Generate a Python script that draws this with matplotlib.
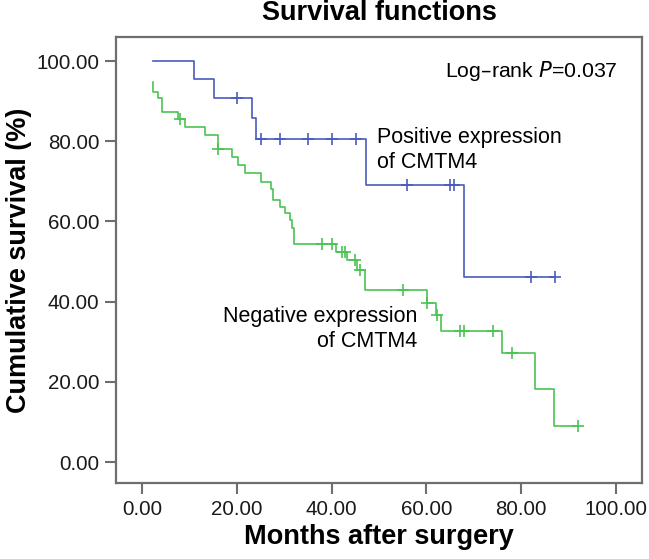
import numpy as np
import matplotlib.pyplot as plt

plt.rcParams['font.family'] = ['Liberation Sans', 'DejaVu Sans']

# Kaplan-Meier steps (months, cumulative survival %)
pos_t = [2.3, 11.0, 15.2, 23.1, 24.0, 47.2, 68.0, 87.1]
pos_s = [100.0, 95.5, 90.7, 85.8, 80.6, 69.2, 46.1, 46.1]
pos_cens_t = [20.0, 25.0, 29.1, 35.0, 40.0, 45.1, 56.0, 65.0, 65.8, 82.0, 87.1]
pos_cens_s = [90.7, 80.6, 80.6, 80.6, 80.6, 80.6, 69.2, 69.2, 69.2, 46.1, 46.1]

neg_t = [2.4, 2.4, 3.3, 4.2, 7.5, 9.1, 13.3, 16.0, 18.9, 20.3,
         21.7, 25.2, 27.2, 27.7, 29.1, 30.2, 31.2, 31.6, 32.0, 40.9,
         43.2, 45.3, 47.0, 60.1, 62.0, 63.0, 75.9, 82.9, 86.9, 92.0]
neg_s = [94.7, 92.4, 90.7, 87.4, 85.5, 83.6, 81.5, 78.0, 76.1, 74.1,
         72.0, 69.9, 68.2, 65.3, 63.7, 62.0, 60.3, 58.3, 54.5, 52.4,
         50.4, 47.9, 42.9, 39.7, 36.7, 32.7, 27.3, 18.2, 9.1, 9.1]
neg_cens_t = [8.0, 16.0, 37.9, 40.0, 42.2, 42.8, 44.9, 46.0, 55.0, 60.1,
              62.2, 67.1, 67.9, 74.0, 78.0, 92.0]
neg_cens_s = [85.5, 78.0, 54.5, 54.5, 52.4, 52.4, 50.4, 47.9, 42.9, 39.7,
              36.7, 32.7, 32.7, 32.7, 27.3, 9.1]

ticks = [0, 20, 40, 60, 80, 100]

blue = '#4a5bbd'
green = '#4cc453'
grey = '#6e6e6e'

fig = plt.figure(figsize=(6.49, 5.59), dpi=100)
ax = fig.add_axes([116 / 649, 1 - 483 / 559, 526 / 649, 446 / 559])

ax.step(pos_t, pos_s, where='post', color=blue, lw=1.2)
ax.plot(pos_cens_t, pos_cens_s, '+', color=blue, ms=8, mew=1.2)
ax.step(neg_t, neg_s, where='post', color=green, lw=1.2)
ax.plot(neg_cens_t, neg_cens_s, '+', color=green, ms=8, mew=1.2)

ax.set_xlim(-5.5, 105.5)
ax.set_ylim(-5.2, 106)
ax.set_xticks(ticks)
ax.set_yticks(ticks)
ax.set_xticklabels(['%.2f' % t for t in ticks])
ax.set_yticklabels(['%.2f' % t for t in ticks])
ax.tick_params(length=8, width=1.5, color=grey, labelsize=14.8,
               labelcolor='#1a1a1a', pad=4)
for sp in ax.spines.values():
    sp.set_color(grey)
    sp.set_linewidth(1.6)

ax.set_xlabel('Months after surgery', fontsize=19.5, fontweight='bold')
ax.set_ylabel('Cumulative survival (%)', fontsize=19.5, fontweight='bold')
ax.xaxis.set_label_coords(0.5, -0.092)
ax.yaxis.set_label_coords(-0.16, 0.5)

fig.text(0.5 * (116 + 642) / 649, 1 - 20 / 559, 'Survival functions',
         ha='center', va='baseline', fontsize=19.5, fontweight='bold')

ax.text(100.4, 96.0, 'Log\u2013rank $\\it{P}$=0.037', ha='right', va='baseline',
        fontsize=15.3)
ax.text(49.6, 79.6, 'Positive expression', ha='left', va='baseline', fontsize=15.5)
ax.text(49.6, 73.4, 'of CMTM4', ha='left', va='baseline', fontsize=15.5)
ax.text(58.0, 34.9, 'Negative expression', ha='right', va='baseline', fontsize=15.5)
ax.text(58.0, 28.7, 'of CMTM4', ha='right', va='baseline', fontsize=15.5)

fig.savefig('out.png', dpi=100)
